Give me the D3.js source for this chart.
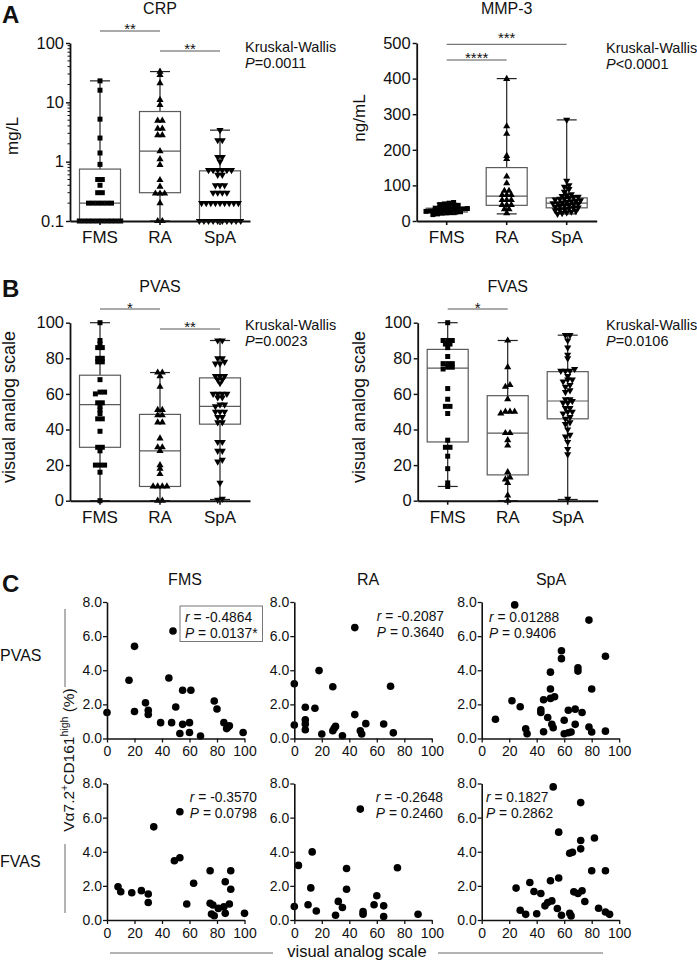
<!DOCTYPE html>
<html>
<head>
<meta charset="utf-8">
<script src="https://cdn.jsdelivr.net/npm/d3@7"></script>
<style>
  body { margin: 0; background: #fff; }
  svg { font-family: Arial, "Liberation Sans", Helvetica, sans-serif; }
</style>
</head>
<body>
<script>
var groups = ["FMS", "RA", "SpA"];

// A: CRP (mg/L), log scale
var crpFMS = [23, 16, 5.2, 2.5, 1.4, 0.9, 0.5, 0.5, 0.4, 0.3, 0.3, 0.2, 0.2, 0.2, 0.2, 0.2, 0.2,
  0.1, 0.1, 0.1, 0.1, 0.1, 0.1, 0.1, 0.1, 0.1, 0.1];
var crpRA = [33, 29, 21, 11, 9, 4.9, 4.9, 3.6, 3.6, 2.8, 2.8, 1.5, 1.1, 0.88, 0.49, 0.38,
  0.29, 0.29, 0.29, 0.2, 0.1, 0.1];
var crpSpA = [3.4, 2.3, 2.3, 1.2, 1.2, 1.0, 0.72, 0.72, 0.72, 0.72, 0.72, 0.72, 0.6, 0.6,
  0.4, 0.4, 0.4, 0.3, 0.3, 0.3, 0.3, 0.2, 0.2, 0.2, 0.2, 0.2, 0.2, 0.2, 0.2, 0.2,
  0.1, 0.1, 0.1, 0.1, 0.1, 0.1, 0.1, 0.1, 0.1, 0.1];
// box stats: min, q1, median, q3, max
var crpBox = [[0.1, 0.1, 0.2, 0.75, 23], [0.1, 0.3, 1.5, 7, 33], [0.1, 0.105, 0.21, 0.7, 3.4]];

// A: MMP-3 (ng/mL)
var mmpFMS = [52, 50, 48, 46, 44, 42, 40, 38, 37, 36, 35, 34, 33, 32, 31, 30, 30, 29, 28, 27,
  26, 25, 24, 23, 22, 20, 18];
var mmpRA = [399, 266, 245, 183, 174, 125, 106, 85, 85, 73, 73, 73, 59, 59, 59, 45, 45, 45, 33, 33, 22];
var mmpSpA = [284, 113, 100, 96, 90, 82, 75, 72, 70, 68, 67, 65, 63, 62, 60, 58, 56, 55, 53, 52,
  50, 50, 48, 47, 45, 44, 42, 40, 38, 37, 35, 33, 31, 30, 28, 26, 24, 22, 20];
var mmpBox = [[18, 25, 30, 36, 50], [20, 44, 70, 150, 400], [20, 37, 50, 65, 284]];

// B: PVAS
var pvasFMS = [100, 90, 88, 86, 86, 80, 80, 78, 78, 68, 61, 61, 60, 55, 55, 53, 51, 49, 46, 46,
  39, 30, 30, 28, 20, 20, 20, 16, 0];
var pvasRA = [72, 72, 70, 64, 51, 51, 48, 48, 44, 44, 35, 30, 30, 28, 20, 18, 15, 8, 8, 8, 8, 0, 0];
var pvasSpA = [90, 90, 80, 80, 78, 77, 77, 70, 70, 70, 68, 68, 66, 60, 60, 60, 60, 58, 58, 54,
  54, 53, 50, 50, 50, 47, 47, 44, 44, 33, 33, 28, 28, 23, 22, 10, 1, 0.5];
var pvasBox = [[0, 30, 54, 70.5, 100], [0, 8, 28, 48.5, 72], [0.7, 43, 53, 69, 90]];

// B: FVAS
var fvasFMS = [100, 90, 90, 90, 88, 88, 86, 81, 77, 77, 77, 75, 75, 74, 63, 57, 53, 53, 49,
  34, 30, 30, 25, 18, 10, 8];
var fvasRA = [90, 75, 65, 64, 57, 50, 50, 50, 49, 38, 38, 34, 31, 16, 13, 12, 10, 3, 0];
var fvasSpA = [93, 93, 90, 86, 82, 80, 74, 73, 73, 73, 70, 68, 68, 67, 65, 64, 62, 61, 57, 57,
  56, 55, 55, 52, 52, 50, 50, 49, 47, 46, 44, 43, 40, 37, 36, 33, 29, 26, 1];
var fvasBox = [[8, 33, 74.5, 85, 100], [0, 14.5, 38, 59, 90], [0.7, 46, 56, 72.5, 93]];

// C: Va7.2+CD161high (%) vs visual analog scale, [vas, percent]
var cPvasFMS = [[0, 1.52], [16, 3.41], [20, 5.4], [20, 1.58], [28, 2.09], [30, 1.66], [30, 1.41],
  [39, 0.93], [45, 3.55], [48, 6.3], [47, 0.93], [50, 1.85], [55, 2.83], [55, 0.83], [53, 0.29],
  [61, 2.83], [60, 0.93], [60, 0.35], [68, 0.15], [78, 2.2], [80, 1.73], [85, 0.93], [87, 0.58],
  [89, 0.74], [88, 0.68], [99, 0.35]];
var cPvasRA = [[0, 3.21], [0, 0.79], [8, 1.83], [8, 1.1], [8, 0.85], [8, 0.51], [15, 1.77],
  [18, 3.98], [20, 0.26], [28, 3.03], [28, 0.45], [30, 0.71], [29, 0.6], [35, 0.16], [44, 6.5],
  [44, 1.4], [48, 0.45], [49, 0.26], [52, 0.87], [65, 0.85], [70, 3.06], [72, 0.33]];
var cPvasSpA = [[10, 1.13], [24, 7.83], [22, 2.21], [28, 1.86], [32, 0.57], [33, 0.28], [45, 0.4],
  [43, 1.68], [43, 1.52], [45, 2.27], [48, 1.23], [50, 3.89], [50, 2.9], [50, 2.35], [51, 0.83],
  [52, 0.63], [53, 2.45], [58, 5.14], [58, 4.68], [60, 1.07], [60, 0.28], [63, 1.66], [63, 0.34],
  [65, 0.38], [68, 1.72], [68, 0.83], [70, 4.15], [70, 3.95], [73, 1.52], [78, 6.94], [78, 0.67],
  [80, 2.9], [80, 0.38], [90, 4.82], [90, 0.43]];
var cFvasFMS = [[8, 1.95], [10, 1.66], [18, 1.6], [25, 1.72], [30, 1.52], [30, 1.03], [34, 5.46],
  [49, 3.47], [53, 3.65], [53, 6.34], [58, 0.94], [63, 2.15], [75, 2.89], [75, 0.98], [77, 0.88],
  [76, 0.35], [78, 0.25], [81, 0.68], [85, 0.78], [86, 0.39], [86, 2.24], [89, 0.94], [90, 2.89],
  [90, 1.8], [100, 0.39]];
var cFvasRA = [[0, 0.79], [3, 3.2], [10, 0.89], [12, 1.88], [13, 3.99], [16, 0.53], [30, 0.28],
  [32, 1.09], [35, 0.73], [38, 3.02], [38, 1.8], [48, 6.5], [50, 0.49], [50, 0.34], [58, 0.89],
  [60, 1.42], [65, 0.83], [65, 0.2], [75, 3.06], [90, 0.34]];
var cFvasSpA = [[25, 1.87], [28, 0.57], [32, 0.33], [35, 2.2], [38, 1.67], [40, 0.37], [43, 1.55],
  [46, 0.83], [48, 1.02], [50, 2.3], [51, 1.12], [52, 7.8], [55, 0.67], [56, 5.15], [56, 2.46],
  [58, 0.28], [64, 3.91], [66, 3.97], [64, 0.39], [65, 0.24], [67, 1.65], [70, 1.55], [72, 6.88],
  [72, 4.66], [72, 4.17], [73, 1.71], [75, 1.08], [80, 2.89], [82, 4.81], [85, 0.69], [90, 2.89],
  [90, 0.47], [93, 0.33]];

var vasTicks = [0, 20, 40, 60, 80, 100];
var pctTicks = [0, 2, 4, 6, 8];

var ink = "#111";
var svg = d3.select("body").append("svg")
    .attr("width", 697)
    .attr("height", 963);

function txt(g, x, y, s, size, anchor) {
  return g.append("text")
      .attr("x", x).attr("y", y)
      .attr("font-size", size)
      .attr("text-anchor", anchor || "start")
      .attr("fill", ink)
      .text(s);
}

function vtxt(g, x, y, s, size) {
  return g.append("text")
      .attr("transform", `translate(${x},${y}) rotate(-90)`)
      .attr("font-size", size)
      .attr("text-anchor", "middle")
      .attr("fill", ink)
      .text(s);
}

function styleAxis(sel, size, width) {
  sel.attr("font-family", null).attr("font-size", null);
  sel.select(".domain").attr("stroke", ink).attr("stroke-width", width);
  sel.selectAll(".tick line").attr("stroke", ink).attr("stroke-width", width * 0.8);
  sel.selectAll(".tick text").attr("font-size", size).attr("fill", ink);
}

// points with the same level are laid side by side, centred on the group
function swarm(vals, y, cx, s, binH) {
  var pts = vals.map(v => ({v: v, py: y(v)})).sort((a, b) => b.py - a.py);
  var out = [], row = [];
  function flush() {
    row.forEach((p, i) => out.push({x: cx + (i - (row.length - 1) / 2) * s, y: p.py}));
    row = [];
  }
  pts.forEach(p => {
    if (row.length && Math.abs(p.py - row[0].py) > binH) flush();
    row.push(p);
  });
  flush();
  return out;
}

var shapes = [
  {type: d3.symbolSquare, size: 25, rot: 0},
  {type: d3.symbolTriangle, size: 22, rot: 0},
  {type: d3.symbolTriangle, size: 22, rot: 180}
];

function boxPanel(o) {
  var g = svg.append("g");
  var x = d3.scaleBand().domain(groups).range([o.x0, o.x0 + 180]);
  var y = (o.log ? d3.scaleLog() : d3.scaleLinear()).domain(o.domain).range([o.y0, o.y1]);

  // boxes and whiskers
  groups.forEach((grp, i) => {
    var b = o.box[i], cx = x(grp) + x.bandwidth() / 2;
    g.append("line").attr("x1", cx).attr("x2", cx).attr("y1", y(b[0])).attr("y2", y(b[4]))
        .attr("stroke", "#222").attr("stroke-width", 1.2);
    [b[0], b[4]].forEach(v => g.append("line")
        .attr("x1", cx - 10).attr("x2", cx + 10).attr("y1", y(v)).attr("y2", y(v))
        .attr("stroke", "#222").attr("stroke-width", 1.2));
    g.append("rect").attr("x", cx - 20.5).attr("width", 41)
        .attr("y", y(b[3])).attr("height", y(b[1]) - y(b[3]))
        .attr("fill", "#fff").attr("stroke", "#5a5a5a").attr("stroke-width", 1.2);
    g.append("line").attr("x1", cx - 20.5).attr("x2", cx + 20.5).attr("y1", y(b[2])).attr("y2", y(b[2]))
        .attr("stroke", "#5a5a5a").attr("stroke-width", 1.2);
  });

  // points
  groups.forEach((grp, i) => {
    var cx = x(grp) + x.bandwidth() / 2, sh = shapes[i];
    var sym = d3.symbol().type(sh.type).size(sh.size);
    g.append("g").selectAll("path")
      .data(swarm(o.values[i], y, cx, 4.6, 3))
      .enter().append("path")
        .attr("d", sym)
        .attr("transform", d => `translate(${d.x},${d.y}) rotate(${sh.rot})`)
        .attr("fill", "#000");
  });

  // axes
  var ya = d3.axisLeft(y).tickValues(o.ticks).tickSize(4).tickPadding(2).tickSizeOuter(0)
      .tickFormat(o.log ? d3.format("~g") : d3.format("d"));
  var yg = g.append("g").attr("transform", `translate(${o.x0},0)`).call(ya);
  styleAxis(yg, 16.5, 1.8);
  if (o.log) {
    var minor = [];
    [0.1, 1, 10].forEach(d => d3.range(2, 10).forEach(k => minor.push(d * k)));
    g.append("g").selectAll("line").data(minor).enter().append("line")
        .attr("x1", o.x0 - 2.5).attr("x2", o.x0).attr("y1", d => y(d)).attr("y2", d => y(d))
        .attr("stroke", ink).attr("stroke-width", 1);
  }
  var xa = d3.axisBottom(x).tickSize(4).tickPadding(6).tickSizeOuter(0);
  var xg = g.append("g").attr("transform", `translate(0,${o.y0})`).call(xa);
  styleAxis(xg, 17, 2);

  // labels
  txt(g, o.x0 + 90, o.titleY, o.title, 16, "middle");
  vtxt(g, o.ylabX, o.ylabY, o.ylab, o.ylabSize);
  txt(g, o.kwX, o.kwY, "Kruskal-Wallis", 14.5);
  var p = txt(g, o.kwX, o.kwY + 16, "", 14.5);
  p.append("tspan").attr("font-style", "italic").text("P");
  p.append("tspan").text(o.kw);

  // significance bars
  o.sig.forEach(s => {
    var xa1 = x(groups[s[0]]) + x.bandwidth() / 2, xa2 = x(groups[s[1]]) + x.bandwidth() / 2;
    g.append("line").attr("x1", xa1).attr("x2", xa2).attr("y1", s[2]).attr("y2", s[2])
        .attr("stroke", "#555").attr("stroke-width", 1);
    txt(g, (xa1 + xa2) / 2, s[2] + (s[4] || 3), s[3], 15, "middle");
  });
}

function scatter(o) {
  var g = svg.append("g");
  var x = d3.scaleLinear().domain([0, 100]).range([o.x0, o.x0 + 137.5]);
  var y = d3.scaleLinear().domain([0, 8]).range([o.y0 + 136.5, o.y0]);

  g.append("g").selectAll("circle").data(o.data).enter().append("circle")
      .attr("cx", d => x(d[0])).attr("cy", d => y(d[1])).attr("r", 3.8).attr("fill", "#000");

  var xg = g.append("g").attr("transform", `translate(0,${o.y0 + 136.5})`)
      .call(d3.axisBottom(x).tickValues(vasTicks).tickSize(4).tickPadding(4).tickSizeOuter(0));
  styleAxis(xg, 14, 1.6);
  var yg = g.append("g").attr("transform", `translate(${o.x0},0)`)
      .call(d3.axisLeft(y).tickValues(pctTicks).tickFormat(d3.format(".1f"))
        .tickSize(4).tickPadding(1).tickSizeOuter(0));
  styleAxis(yg, 14, 1.6);

  var t1 = txt(g, o.sx, o.sy, "", 13.8, o.anchor);
  t1.append("tspan").attr("font-style", "italic").text("r");
  t1.append("tspan").text(" = " + o.r);
  var t2 = txt(g, o.sx, o.sy + 16, "", 13.8, o.anchor);
  t2.append("tspan").attr("font-style", "italic").text("P");
  t2.append("tspan").text(" = " + o.p);
  if (o.framed) {
    g.append("rect").attr("x", o.sx - 5).attr("y", o.sy - 16).attr("width", 82.5).attr("height", 35.5)
        .attr("fill", "none").attr("stroke", "#777").attr("stroke-width", 1);
  }
}

// panel A
boxPanel({x0: 70, y0: 221, y1: 43, log: true, domain: [0.1, 100], ticks: [0.1, 1, 10, 100],
  values: [crpFMS, crpRA, crpSpA], box: crpBox, title: "CRP", titleY: 14,
  ylab: "mg/L", ylabX: 18, ylabY: 136, ylabSize: 17,
  kw: "=0.0011", kwX: 245, kwY: 52, sig: [[0, 1, 31, "**"], [1, 2, 51, "**"]]});
boxPanel({x0: 416.7, y0: 221, y1: 43, log: false, domain: [0, 500], ticks: [0, 100, 200, 300, 400, 500],
  values: [mmpFMS, mmpRA, mmpSpA], box: mmpBox, title: "MMP-3", titleY: 14,
  ylab: "ng/mL", ylabX: 365, ylabY: 118, ylabSize: 17,
  kw: "<0.0001", kwX: 606, kwY: 53, sig: [[0, 2, 44.3, "***", -1], [0, 1, 60, "****"]]});

// panel B
boxPanel({x0: 70, y0: 500.7, y1: 322.7, log: false, domain: [0, 100], ticks: [0, 20, 40, 60, 80, 100],
  values: [pvasFMS, pvasRA, pvasSpA], box: pvasBox, title: "PVAS", titleY: 292,
  ylab: "visual analog scale", ylabX: 15, ylabY: 407, ylabSize: 18,
  kw: "=0.0023", kwX: 245, kwY: 330, sig: [[0, 1, 309, "*", 4], [1, 2, 329, "**"]]});
boxPanel({x0: 417.7, y0: 500.7, y1: 322.7, log: false, domain: [0, 100], ticks: [0, 20, 40, 60, 80, 100],
  values: [fvasFMS, fvasRA, fvasSpA], box: fvasBox, title: "FVAS", titleY: 292,
  ylab: "visual analog scale", ylabX: 365, ylabY: 407, ylabSize: 18,
  kw: "=0.0106", kwX: 606, kwY: 330, sig: [[0, 1, 309, "*", 4]]});

// panel C
var cx0 = [107, 294.3, 481.7], cy0 = [602, 783.5];
scatter({x0: cx0[0], y0: cy0[0], data: cPvasFMS, r: "-0.4864", p: "0.0137*", sx: 185, sy: 622, anchor: "start", framed: true});
scatter({x0: cx0[1], y0: cy0[0], data: cPvasRA, r: "-0.2087", p: "0.3640", sx: 444, sy: 621, anchor: "end"});
scatter({x0: cx0[2], y0: cy0[0], data: cPvasSpA, r: "0.01288", p: "0.9406", sx: 489, sy: 622, anchor: "start"});
scatter({x0: cx0[0], y0: cy0[1], data: cFvasFMS, r: "-0.3570", p: "0.0798", sx: 257, sy: 802, anchor: "end"});
scatter({x0: cx0[1], y0: cy0[1], data: cFvasRA, r: "-0.2648", p: "0.2460", sx: 443, sy: 802, anchor: "end"});
scatter({x0: cx0[2], y0: cy0[1], data: cFvasSpA, r: "0.1827", p: "0.2862", sx: 486, sy: 802, anchor: "start"});

var lab = svg.append("g");
txt(lab, 185, 585, "FMS", 16, "middle");
txt(lab, 368, 585, "RA", 16, "middle");
txt(lab, 551, 585, "SpA", 16, "middle");
txt(lab, 0, 661, "PVAS", 16);
txt(lab, 0, 867, "FVAS", 16);

// shared axis titles with their rule lines
var yl = lab.append("text")
    .attr("transform", "translate(74,760) rotate(-90)")
    .attr("font-size", 15.5).attr("text-anchor", "middle").attr("fill", ink);
yl.append("tspan").text("V\u03b17.2");
yl.append("tspan").attr("font-size", 10.5).attr("dy", -6).text("+");
yl.append("tspan").attr("dy", 6).text("CD161");
yl.append("tspan").attr("font-size", 10.5).attr("dy", -6).text("high");
yl.append("tspan").attr("dy", 6).text(" (%)");
lab.append("line").attr("x1", 65).attr("x2", 65).attr("y1", 609).attr("y2", 687).attr("stroke", "#666");
lab.append("line").attr("x1", 65).attr("x2", 65).attr("y1", 844).attr("y2", 913).attr("stroke", "#666");

txt(lab, 357, 957, "visual analog scale", 16.5, "middle");
lab.append("line").attr("x1", 110).attr("x2", 273).attr("y1", 953).attr("y2", 953).attr("stroke", "#666");
lab.append("line").attr("x1", 438).attr("x2", 603).attr("y1", 953).attr("y2", 953).attr("stroke", "#666");

// panel letters
[["A", 23], ["B", 297], ["C", 592]].forEach(d =>
  txt(lab, 2, d[1], d[0], 24).attr("font-weight", "bold"));
</script>
</body>
</html>
